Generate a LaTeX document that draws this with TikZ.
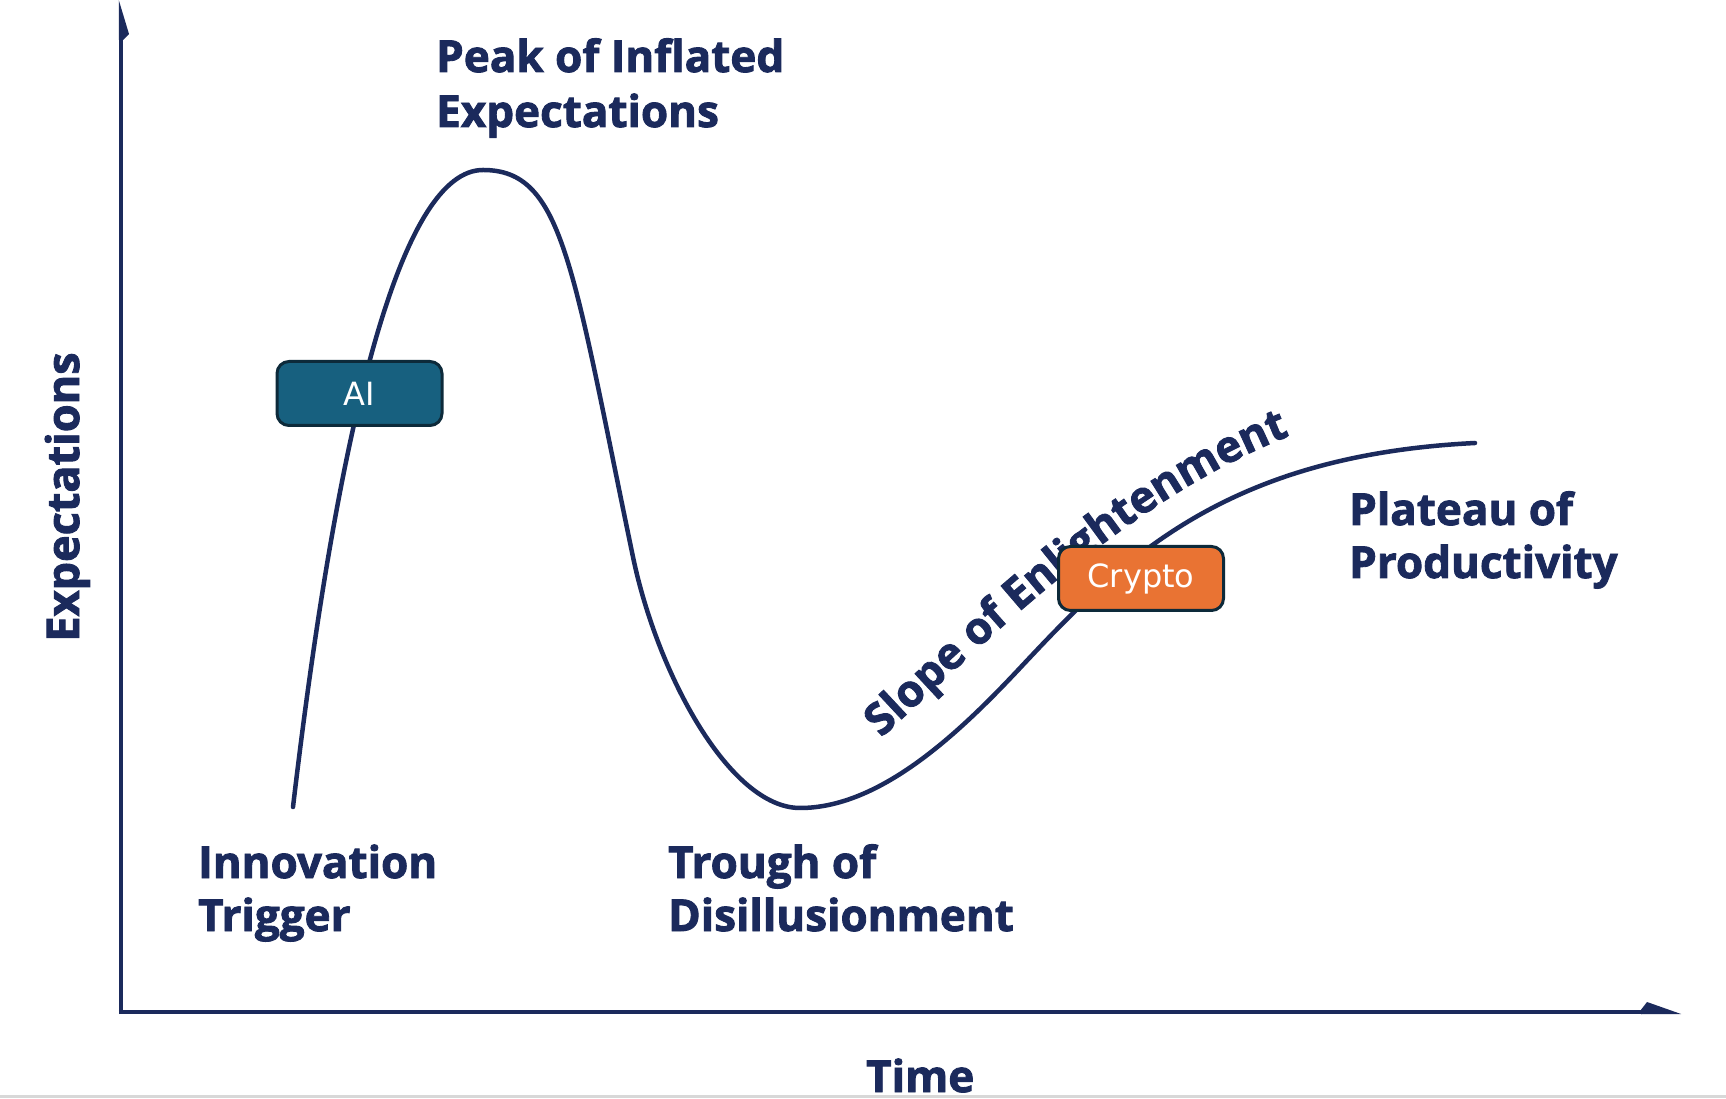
\documentclass[tikz,border=0pt]{standalone}
\usepackage{fontspec}
\setmainfont{Open Sans}[BoldFeatures={FakeBold=2}]
\newfontfamily\boxfont{DejaVu Sans}
\usetikzlibrary{decorations.text}
\definecolor{navy}{HTML}{1B2A5C}
\definecolor{aiblue}{HTML}{17607F}
\definecolor{cryptoorange}{HTML}{E97333}
\definecolor{boxborder}{HTML}{0D2A3A}
\definecolor{bargray}{HTML}{D8D8D8}
\tikzset{
  lbl/.style={anchor=base west, inner sep=0pt, text=navy, font=\bfseries\fontsize{44}{44}\selectfont},
  axisline/.style={draw=navy, line width=4.5pt},
  hype/.style={draw=navy, line width=4.5pt, line cap=round},
  tagbox/.style={draw=boxborder, line width=3pt, rounded corners=12pt, minimum width=165pt, minimum height=64pt, text=white, font=\boxfont\fontsize{32}{32}\selectfont, inner sep=0pt}
}
\begin{document}
\begin{tikzpicture}[x=1pt,y=1pt]
\useasboundingbox (0,0) rectangle (1726,1098);
\fill[white] (0,0) rectangle (1726,1098);

% axes
\coordinate (O) at (121,86);
\coordinate (ytop) at (121,1062);
\coordinate (xend) at (1645,86);
\draw[axisline] (121,84) -- (ytop);
\draw[axisline] (118.75,86) -- (xend);
\fill[navy] (118.75,1098) -- (129,1064) -- (123.25,1058) -- (118.75,1058) -- cycle;
\fill[navy] (1681,84) -- (1647,96) -- (1641,88.25) -- (1641,83.75) -- cycle;

% hype curve key points
\coordinate (trigger) at (293,291);
\coordinate (peak) at (483,928);
\coordinate (fall) at (633,541);
\coordinate (trough) at (800,290);
\coordinate (slope) at (1020,430);
\coordinate (plateau) at (1475,655);
\draw[hype] (trigger) .. controls (339.8,688.2) and (403,928) .. (peak)
  .. controls (563,928) and (571.8,834.7) .. (fall)
  .. controls (657.5,423.5) and (730,290) .. (trough)
  .. controls (880,290) and (958.5,364.3) .. (slope)
  .. controls (1122.5,539.5) and (1225,642.5) .. (plateau);

% slope label along path
\path[decorate, decoration={text along path, text align=center,
  text={|\color{navy}\bfseries\fontsize{44}{44}\selectfont|Slope of Enlightenment}}]
  (878,357) .. controls (1000,470) and (1130,600) .. (1294,664);

% boxes
\node[tagbox, fill=aiblue] (ai) at (359.5,704.5) {AI};
\node[tagbox, fill=cryptoorange] (crypto) at (1141,519.5) {Crypto};

% labels
\node[lbl] (peak1) at (436,1026) {Peak of Inflated};
\node[lbl] (peak2) at (436,971) {Expectations};
\node[lbl] (innov1) at (198,220) {Innovation};
\node[lbl] (innov2) at (198,167) {Trigger};
\node[lbl] (trough1) at (668,220) {Trough of};
\node[lbl] (trough2) at (668,167) {Disillusionment};
\node[lbl] (plat1) at (1349,573) {Plateau of};
\node[lbl] (plat2) at (1349,520) {Productivity};
\node[lbl, anchor=base, rotate=90, font=\bfseries\fontsize{45}{45}\selectfont] (ylabel) at (79,601) {Expectations};
\node[lbl] (xlabel) at (866,6) {Time};

\fill[bargray] (0,0) rectangle (1726,3);
\end{tikzpicture}
\end{document}
